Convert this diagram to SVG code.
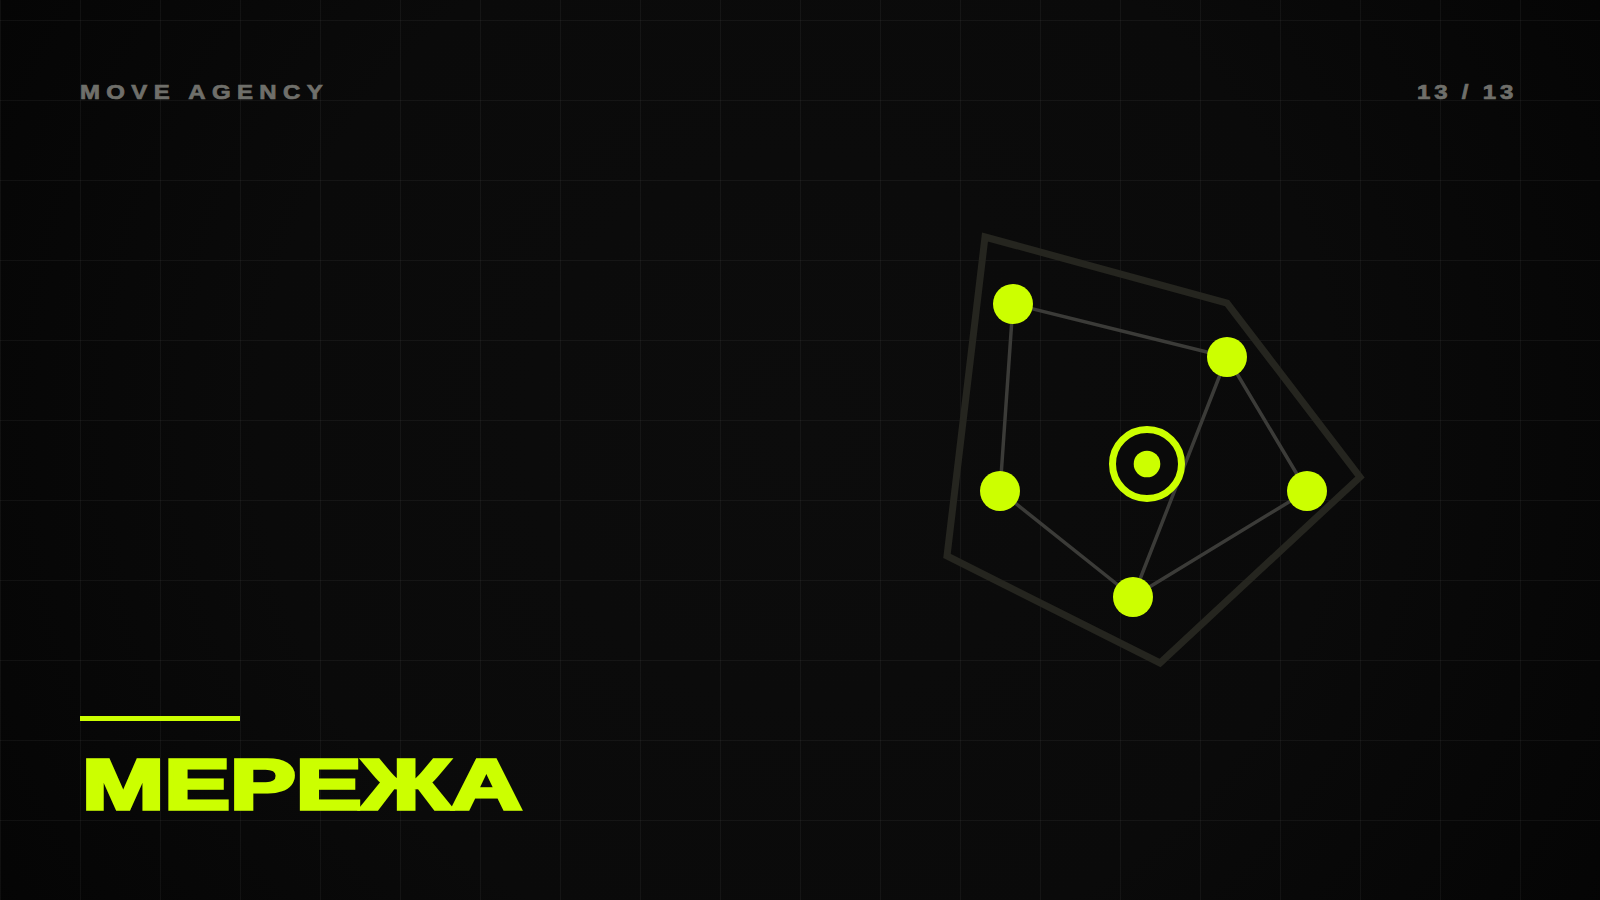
<svg xmlns="http://www.w3.org/2000/svg" width="1600" height="900" viewBox="0 0 1600 900">
  <defs>
    <radialGradient id="bg" cx="800" cy="430" r="980" gradientUnits="userSpaceOnUse">
      <stop offset="0" stop-color="#0c0c0c"/>
      <stop offset="0.55" stop-color="#0a0a0a"/>
      <stop offset="1" stop-color="#040404"/>
    </radialGradient>
    <pattern id="grid" x="0" y="20" width="80" height="80" patternUnits="userSpaceOnUse">
      <path d="M0.5 0 V80 M0 0.5 H80" fill="none" stroke="#ffffff" stroke-opacity="0.045" stroke-width="1"/>
    </pattern>
    <style>
      .hdr { font-family: "Liberation Sans", Arial, sans-serif; font-weight: 700; font-size: 20px; fill: #6f6f6a; stroke: #6f6f6a; stroke-width: 0.7px; }
      .title { font-family: "Liberation Sans", Arial, sans-serif; font-weight: 700; font-size: 70px; fill: #ccff00; stroke: #ccff00; stroke-width: 3.5px; stroke-linejoin: miter; }
      .edge { stroke: #3b3b38; stroke-width: 3.5; fill: none; stroke-linecap: round; }
      .node { fill: #ccff00; }
      .hull { fill: none; stroke: #25251f; stroke-width: 7; stroke-linejoin: miter; }
    </style>
  </defs>

  <rect x="0" y="0" width="1600" height="900" fill="url(#bg)"/>
  <rect x="0" y="0" width="1600" height="900" fill="url(#grid)"/>

  <text class="hdr" x="80" y="99" transform="translate(80 0) scale(1.2 1) translate(-80 0)" letter-spacing="5.3">MOVE AGENCY</text>
  <text class="hdr" x="1417" y="99" transform="translate(1417 0) scale(1.2 1) translate(-1417 0)" letter-spacing="3.2">13 / 13</text>

  <g id="hull">
    <polygon class="hull" points="985,237 1227,303 1360,477 1160,663 947,556"/>
  </g>

  <g id="connectors">
    <line class="edge" x1="1013" y1="304" x2="1227" y2="357"/>
    <line class="edge" x1="1013" y1="304" x2="1000" y2="491"/>
    <line class="edge" x1="1000" y1="491" x2="1133" y2="597"/>
    <line class="edge" x1="1133" y1="597" x2="1307" y2="491"/>
    <line class="edge" x1="1307" y1="491" x2="1227" y2="357"/>
    <line class="edge" x1="1227" y1="357" x2="1133" y2="597"/>
  </g>

  <g id="node-a"><circle class="node" cx="1013" cy="304" r="20"/></g>
  <g id="node-b"><circle class="node" cx="1227" cy="357" r="20"/></g>
  <g id="node-c"><circle class="node" cx="1000" cy="491" r="20"/></g>
  <g id="node-d"><circle class="node" cx="1307" cy="491" r="20"/></g>
  <g id="node-e"><circle class="node" cx="1133" cy="597" r="20"/></g>
  <g id="node-center">
    <circle cx="1147" cy="464" r="34.5" fill="#0a0a0a" stroke="#ccff00" stroke-width="7"/>
    <circle class="node" cx="1147" cy="464" r="13.3"/>
  </g>

  <rect x="80" y="716" width="160" height="5" fill="#ccff00"/>
  <text class="title" x="82" y="809" textLength="440" lengthAdjust="spacingAndGlyphs">МЕРЕЖА</text>
</svg>
